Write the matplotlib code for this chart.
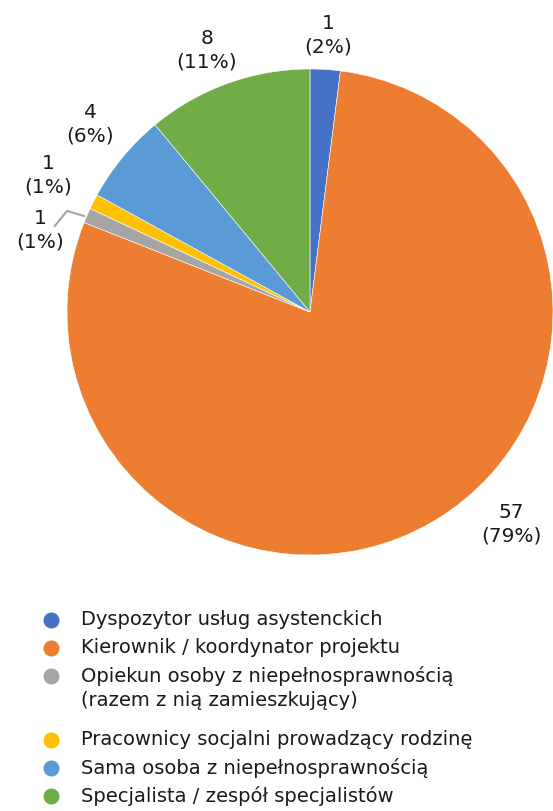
import numpy as np
import matplotlib.pyplot as plt

categories = ['Dyspozytor usług asystenckich',
              'Kierownik / koordynator projektu',
              'Opiekun osoby z niepełnosprawnością\n(razem z nią zamieszkujący)',
              'Pracownicy socjalni prowadzący rodzinę',
              'Sama osoba z niepełnosprawnością',
              'Specjalista / zespół specjalistów']
counts = [1, 57, 1, 1, 4, 8]
shares = [2, 79, 1, 1, 6, 11]
colors = ['#4472C4', '#ED7D31', '#A5A5A5', '#FFC000', '#5B9BD5', '#70AD47']

# label offsets (data units, pie radius = 1)
label_pos = [(0.074, 1.144), (0.83, -0.868), (-1.111, 0.342),
             (-1.078, 0.568), (-0.905, 0.775), (-0.424, 1.082)]

plt.rcParams['font.family'] = ['DejaVu Sans']
txt_col = '#1a1a1a'

fig = plt.figure(figsize=(5.53, 8.12), dpi=100)
W, H = 553, 812
ax = fig.add_axes([67 / W, (H - 556) / H, 486 / W, 486 / H])
ax.pie(shares, colors=colors, startangle=90, counterclock=False, radius=1,
       wedgeprops=dict(edgecolor='white', linewidth=0.4))
ax.set_xlim(-1, 1)
ax.set_ylim(-1, 1)
ax.set_aspect('equal')
ax.axis('off')

for c, s, (x, y) in zip(counts, shares, label_pos):
    ax.text(x, y, '%d\n(%d%%)' % (c, s), ha='center', va='center',
            fontsize=14.5, color=txt_col, linespacing=1.3, clip_on=False)

# leader line for the small gray slice
ax.plot([-1.05, -1.0, -0.93], [0.354, 0.416, 0.395], color='#A5A5A5', lw=1.5,
        clip_on=False)

# legend
y = 621
for lab, col in zip(categories, colors):
    fig.lines.append(plt.Line2D([51 / W], [1 - y / H], marker='o', markersize=10.5,
                                color=col, linestyle='none',
                                transform=fig.transFigure))
    fig.text(81 / W, 1 - (y - 11) / H, lab, ha='left', va='top', fontsize=14,
             color=txt_col, linespacing=1.3)
    y += 28 + 36 * lab.count('\n')

fig.savefig('out.png', dpi=100)
